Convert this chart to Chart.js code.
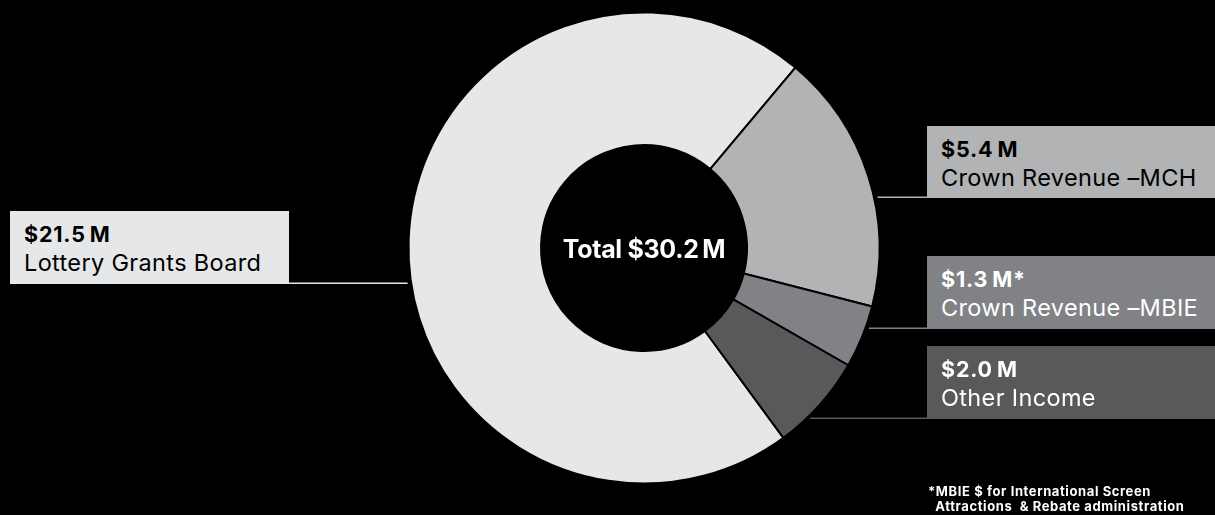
<!DOCTYPE html>
<html>
<head>
<meta charset="utf-8">
<script src="https://cdn.jsdelivr.net/npm/chart.js@4/dist/chart.umd.min.js"></script>
<style>
  html, body { margin: 0; padding: 0; background: #000; }
  #wrap { position: relative; width: 1215px; height: 515px; overflow: hidden; font-family: 'Inter', 'Noto Sans', sans-serif; }
  canvas { position: absolute; left: 0; top: 0; }
  .box { position: absolute; box-sizing: border-box; }
  .box .amt { position: absolute; left: 14px; top: 11px; font-weight: 700; font-size: 21.5px; line-height: 24px; letter-spacing: 0.8px; }
  .box .name { position: absolute; left: 14px; top: 38px; font-weight: 400; font-size: 23.5px; line-height: 28px; white-space: nowrap; letter-spacing: 0.35px; }
  #total { position: absolute; color: #fff; font-weight: 700; font-size: 25px; transform: translate(-50%, -50%); white-space: nowrap; letter-spacing: -0.3px; }
  #note { position: absolute; left: 928px; top: 484px; color: #fff; font-weight: 700; font-size: 13px; line-height: 15px; white-space: pre; letter-spacing: 0.6px; }
</style>
</head>
<body>
<div id="wrap">
  <canvas id="chart" width="1215" height="515"></canvas>
  <div id="total"></div>
  <div id="note"></div>
</div>
<script>
// income sources, $ millions
const categories = ['Lottery Grants Board', 'Crown Revenue –MCH', 'Crown Revenue –MBIE', 'Other Income']
const amounts = [21.5, 5.4, 1.3, 2.0]
const marks = ['', '', '*', '']
const total = 30.2
const footnote = ['*MBIE $ for International Screen', '  Attractions  & Rebate administration']

const sliceColors = ['#e6e7e8', '#b1b3b5', '#808285', '#58595b']
const textColors = ['#000', '#000', '#fff', '#fff']

// label boxes: left, top, width, height (px)
const boxLayout = [
  [10, 211, 279, 73],
  [927, 126, 288, 72],
  [927, 256, 288, 73],
  [927, 346, 288, 73],
]

const wrap = document.getElementById('wrap')
categories.forEach((name, i) => {
  const [l, t, w, h] = boxLayout[i]
  const box = document.createElement('div')
  box.className = 'box'
  Object.assign(box.style, {
    left: l + 'px', top: t + 'px', width: w + 'px', height: h + 'px',
    background: sliceColors[i], color: textColors[i],
  })
  box.innerHTML =
    '<div class="amt">$' + amounts[i].toFixed(1) + '\u2009M' + marks[i] + '</div>' +
    '<div class="name">' + name + '</div>'
  wrap.appendChild(box)
})
document.getElementById('total').textContent = 'Total $' + total.toFixed(1) + '\u2009M'
document.getElementById('note').textContent = footnote.join('\n')

// leader lines from each box's bottom edge to the ring
const leaderLines = {
  id: 'leaderLines',
  afterDraw(chart) {
    const ctx = chart.ctx
    const arc = chart.getDatasetMeta(0).data[0]
    const { x: cx, y: cy, outerRadius: r } = arc.getProps(['x', 'y', 'outerRadius'], true)
    ctx.save()
    ctx.lineWidth = 1.5
    boxLayout.forEach(([l, t, w, h], i) => {
      const y = t + h - 0.75
      const dx = Math.sqrt(Math.max(r * r - (y - cy) * (y - cy), 0))
      ctx.strokeStyle = sliceColors[i]
      ctx.beginPath()
      if (l < cx) {
        ctx.moveTo(l + w, y)
        ctx.lineTo(cx - dx - 3.5, y)
      } else {
        ctx.moveTo(cx + dx + 3.5, y)
        ctx.lineTo(l, y)
      }
      ctx.stroke()
    })
    ctx.restore()
    const totalEl = document.getElementById('total')
    totalEl.style.left = cx + 'px'
    totalEl.style.top = (cy + 1) + 'px'
  },
}

new Chart(document.getElementById('chart'), {
  type: 'doughnut',
  data: {
    labels: categories,
    datasets: [
      {
        data: amounts,
        backgroundColor: sliceColors,
        borderColor: '#000',
        borderWidth: 2,
        hoverOffset: 0,
      },
    ],
  },
  options: {
    responsive: false,
    animation: false,
    rotation: 143.7,
    radius: 235.5,
    cutout: 108,
    layout: { padding: { left: 73, right: 0, top: 0, bottom: 19 } },
    plugins: {
      legend: { display: false },
      tooltip: { enabled: false },
    },
  },
  plugins: [leaderLines],
})
</script>
</body>
</html>
